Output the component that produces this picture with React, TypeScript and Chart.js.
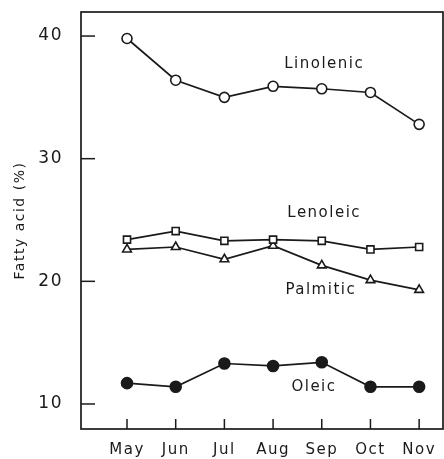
import React, { useEffect, useRef } from "react";
import { Chart, registerables } from "chart.js";

Chart.register(...registerables);

const months = ["May", "Jun", "Jul", "Aug", "Sep", "Oct", "Nov"];
const linolenic = [39.8, 36.4, 35.0, 35.9, 35.7, 35.4, 32.8];
const lenoleic = [23.4, 24.1, 23.3, 23.4, 23.3, 22.6, 22.8];
const palmitic = [22.6, 22.8, 21.8, 22.9, 21.3, 20.1, 19.3];
const oleic = [11.7, 11.4, 13.3, 13.1, 13.4, 11.4, 11.4];
const yTicks = [10, 20, 30, 40];
const seriesLabels = [
  { text: "Linolenic", x: 4.05, y: 37.7 },
  { text: "Lenoleic", x: 4.05, y: 25.55 },
  { text: "Palmitic", x: 3.98, y: 19.3 },
  { text: "Oleic", x: 3.84, y: 11.35 },
];

const FONT = "'DejaVu Sans', sans-serif";
const INK = "#1a1a1a";

const toXY = (arr: number[]) => arr.map((v, i) => ({ x: i, y: v }));

const zeroPad = (s: any) => {
  s.paddingTop = 0;
  s.paddingBottom = 0;
  s.paddingLeft = 0;
  s.paddingRight = 0;
};

export default function App() {
  const ref = useRef<HTMLCanvasElement>(null);
  useEffect(() => {
    if (!ref.current) return;
    const framePlugin = {
      id: "frame",
      beforeDraw(chart: any) {
        chart.ctx.letterSpacing = "1.5px";
      },
      afterDraw(chart: any) {
        const { ctx, chartArea: a, scales } = chart;
        ctx.save();
        ctx.strokeStyle = INK;
        ctx.lineWidth = 1.7;
        ctx.strokeRect(a.left, a.top, a.right - a.left, a.bottom - a.top);
        ctx.lineWidth = 1.5;
        yTicks.forEach((v) => {
          const py = scales.y.getPixelForValue(v);
          ctx.beginPath();
          ctx.moveTo(a.left, py);
          ctx.lineTo(a.left + 14, py);
          ctx.stroke();
        });
        months.forEach((_, i) => {
          const px = scales.x.getPixelForValue(i);
          ctx.beginPath();
          ctx.moveTo(px, a.bottom);
          ctx.lineTo(px, a.bottom - 10);
          ctx.stroke();
        });
        ctx.fillStyle = INK;
        ctx.font = `15px ${FONT}`;
        ctx.letterSpacing = "1.5px";
        ctx.textAlign = "center";
        ctx.textBaseline = "middle";
        seriesLabels.forEach((l) => {
          ctx.fillText(l.text, scales.x.getPixelForValue(l.x), scales.y.getPixelForValue(l.y));
        });
        ctx.restore();
      },
    };
    const common = {
      borderColor: INK,
      borderWidth: 1.7,
      pointBorderColor: INK,
      pointBorderWidth: 1.6,
      fill: false,
      tension: 0,
      clip: false,
    };
    const chart = new Chart(ref.current, {
      type: "line",
      data: {
        datasets: [
          { ...common, label: "Linolenic", data: toXY(linolenic), pointStyle: "circle", pointRadius: 5, pointBackgroundColor: "#fff" },
          { ...common, label: "Lenoleic", data: toXY(lenoleic), pointStyle: "rect", pointRadius: 5, pointBackgroundColor: "#fff" },
          { ...common, label: "Palmitic", data: toXY(palmitic), pointStyle: "triangle", pointRadius: 5, pointBackgroundColor: "#fff" },
          { ...common, label: "Oleic", data: toXY(oleic), pointStyle: "circle", pointRadius: 5.5, pointBackgroundColor: INK },
        ],
      },
      options: {
        animation: false,
        responsive: false,
        devicePixelRatio: 1,
        layout: { autoPadding: false, padding: { top: 12, right: 1, left: 0, bottom: 0 } },
        plugins: { legend: { display: false }, tooltip: { enabled: false } },
        scales: {
          x: {
            type: "linear",
            min: -0.945,
            max: 6.49,
            grid: { display: false, drawTicks: false },
            border: { display: false },
            afterBuildTicks: (s: any) => {
              s.ticks = months.map((_, i) => ({ value: i }));
            },
            afterFit: (s: any) => {
              s.height = 30;
              zeroPad(s);
            },
            ticks: {
              autoSkip: false,
              maxRotation: 0,
              padding: 12,
              color: INK,
              font: { family: FONT, size: 15 },
              callback: (v: any) => months[v] ?? "",
            },
          },
          y: {
            min: 7.96,
            max: 41.96,
            grid: { display: false, drawTicks: false },
            border: { display: false },
            afterBuildTicks: (s: any) => {
              s.ticks = yTicks.map((v) => ({ value: v }));
            },
            afterFit: (s: any) => {
              s.width = 81;
              zeroPad(s);
            },
            ticks: {
              padding: 18,
              color: INK,
              font: { family: FONT, size: 17 },
            },
            title: {
              display: true,
              text: "Fatty acid (%)",
              color: INK,
              font: { family: FONT, size: 14 },
              padding: { top: 12, bottom: 0 },
            },
          },
        },
      },
      plugins: [framePlugin],
    } as any);
    return () => chart.destroy();
  }, []);
  return (
    <div style={{ position: "fixed", left: 0, top: 0, width: 444, height: 459, background: "#fff" }}>
      <canvas ref={ref} width={444} height={459} style={{ display: "block" }} />
    </div>
  );
}
